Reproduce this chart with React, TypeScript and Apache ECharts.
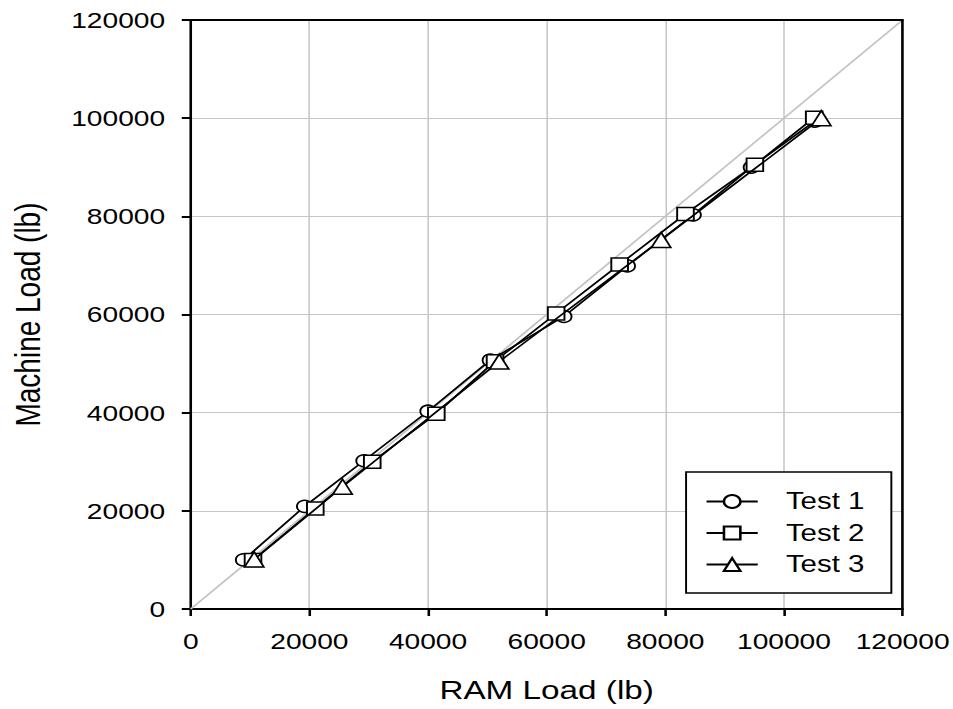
import { useEffect, useRef } from "react";
import * as echarts from "echarts";

// Axis scale (lb) shared by both axes
const AXIS_MIN = 0;
const AXIS_MAX = 120000;
const AXIS_STEP = 20000;

// [RAM load, machine load] pairs
const test1: [number, number][] = [
  [8900, 10000],
  [19200, 20900],
  [29200, 30200],
  [40000, 40300],
  [50500, 50700],
  [62900, 59600],
  [73600, 69900],
  [84700, 80300],
  [94500, 90000],
  [105200, 99400],
];

const test2: [number, number][] = [
  [10500, 10000],
  [21000, 20500],
  [30600, 30000],
  [41400, 39800],
  [51300, 50500],
  [61600, 60200],
  [72300, 70200],
  [83400, 80500],
  [95100, 90500],
  [105100, 100100],
];

const test3: [number, number][] = [
  [10700, 10100],
  [25600, 24900],
  [52000, 50400],
  [79300, 75200],
  [106300, 100000],
];

// 1:1 reference line
const identityLine: [number, number][] = [
  [0, 0],
  [120000, 120000],
];

const seriesNames = ["Test 1", "Test 2", "Test 3"];

const PAGE_W = 953;
const PAGE_H = 709;
const STRETCH = 1.28;
const FONT = "'Liberation Sans', Arial, sans-serif";

// Plain integers, no thousands separators
const plainNumber = (v: number) => String(Math.round(v));

export default function App() {
  const ref = useRef<HTMLDivElement>(null);

  useEffect(() => {
    document.body.style.margin = "0";
    const chart = echarts.init(ref.current!, null, { renderer: "svg" });

    const innerW = PAGE_W / STRETCH;
    const left = 190 / STRETCH;
    const right = innerW - 902 / STRETCH;

    const markerStyle = { color: "#fff", borderColor: "#000", borderWidth: 1.5 };
    const lineStyle = { color: "#000", width: 1.6 };

    const baseAxis = {
      type: "value" as const,
      min: AXIS_MIN,
      max: AXIS_MAX,
      interval: AXIS_STEP,
    };

    chart.setOption({
      animation: false,
      textStyle: { fontFamily: FONT },
      grid: { left, right, top: 20, bottom: PAGE_H - 609 },
      xAxis: [
        {
          ...baseAxis,
          position: "bottom",
          name: "RAM Load (lb)",
          nameLocation: "middle",
          nameGap: 68,
          nameTextStyle: { fontSize: 26, color: "#000", fontFamily: FONT },
          axisLine: { show: true, lineStyle: { color: "#000", width: 2 } },
          axisTick: { show: true, length: 7, lineStyle: { color: "#000", width: 2 } },
          axisLabel: {
            fontSize: 22,
            color: "#000",
            margin: 21,
            fontFamily: FONT,
            formatter: plainNumber,
          },
          splitLine: { show: true, lineStyle: { color: "#c6c6c6", width: 1.2 } },
        },
        {
          ...baseAxis,
          position: "top",
          z: 10,
          axisLine: { show: true, onZero: false, lineStyle: { color: "#000", width: 2 } },
          axisTick: { show: false },
          axisLabel: { show: false },
          splitLine: { show: false },
        },
      ],
      yAxis: [
        {
          ...baseAxis,
          position: "left",
          name: "Machine Load (lb)",
          nameLocation: "middle",
          nameGap: 113,
          nameTextStyle: { fontSize: 28, color: "#000", fontFamily: FONT },
          axisLine: { show: true, lineStyle: { color: "#000", width: 2 } },
          axisTick: { show: true, length: 7, lineStyle: { color: "#000", width: 2 } },
          axisLabel: {
            fontSize: 22,
            color: "#000",
            margin: 20,
            fontFamily: FONT,
            formatter: plainNumber,
          },
          splitLine: { show: true, lineStyle: { color: "#c6c6c6", width: 1.2 } },
        },
        {
          ...baseAxis,
          position: "right",
          z: 10,
          axisLine: { show: true, onZero: false, lineStyle: { color: "#000", width: 2 } },
          axisTick: { show: false },
          axisLabel: { show: false },
          splitLine: { show: false },
        },
      ],
      legend: {
        data: seriesNames,
        orient: "vertical",
        left: 536,
        top: 472,
        align: "left",
        backgroundColor: "#fff",
        borderColor: "#000",
        borderWidth: 1.5,
        borderRadius: 0,
        padding: [18, 21, 17, 15],
        itemWidth: 40,
        itemHeight: 16,
        itemGap: 8.5,
        textStyle: {
          fontSize: 23,
          color: "#000",
          fontFamily: FONT,
          padding: [0, 0, 0, 17],
        },
      },
      series: [
        {
          name: "identity",
          type: "line",
          data: identityLine,
          symbol: "none",
          silent: true,
          z: 1,
          lineStyle: { color: "#c4c4c4", width: 1.6 },
        },
        {
          name: seriesNames[0],
          type: "line",
          data: test1,
          symbol: "circle",
          symbolSize: 12,
          z: 3,
          lineStyle,
          itemStyle: markerStyle,
        },
        {
          name: seriesNames[1],
          type: "line",
          data: test2,
          symbol: "rect",
          symbolSize: 13,
          z: 4,
          lineStyle,
          itemStyle: markerStyle,
        },
        {
          name: seriesNames[2],
          type: "line",
          data: test3,
          symbol: "triangle",
          symbolSize: 15,
          z: 5,
          lineStyle,
          itemStyle: markerStyle,
        },
      ],
    });

    return () => chart.dispose();
  }, []);

  return (
    <div style={{ width: PAGE_W, height: PAGE_H, overflow: "hidden", background: "#fff" }}>
      <div
        ref={ref}
        style={{
          width: PAGE_W / STRETCH,
          height: PAGE_H,
          transform: `scaleX(${STRETCH})`,
          transformOrigin: "0 0",
        }}
      />
    </div>
  );
}
